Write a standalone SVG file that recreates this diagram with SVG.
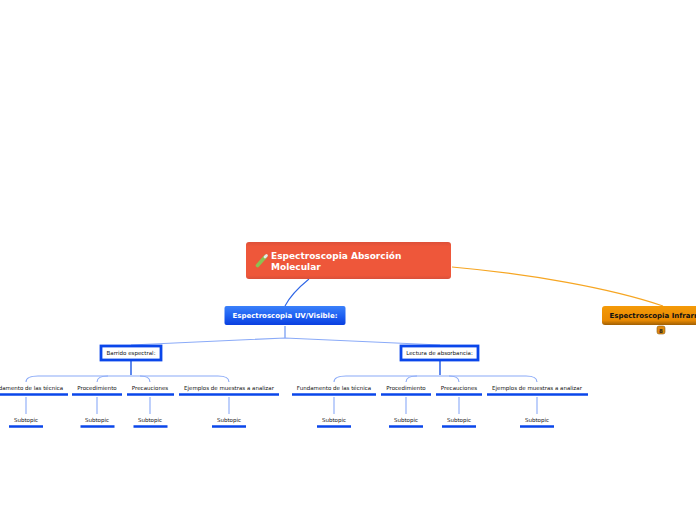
<svg xmlns="http://www.w3.org/2000/svg" width="696" height="520" viewBox="0 0 696 520">
<defs>
<linearGradient id="gBlue" x1="0" y1="0" x2="0" y2="1"><stop offset="0" stop-color="#3b80fa"/><stop offset="0.5" stop-color="#1f62f2"/><stop offset="1" stop-color="#0a3fe0"/></linearGradient>
<linearGradient id="gOrange" x1="0" y1="0" x2="0" y2="1"><stop offset="0" stop-color="#f49a08"/><stop offset="0.75" stop-color="#e98a02"/><stop offset="1" stop-color="#a05f04"/></linearGradient>
<linearGradient id="gRed" x1="0" y1="0" x2="0" y2="1"><stop offset="0" stop-color="#dd5038"/><stop offset="0.12" stop-color="#ee573a"/><stop offset="0.9" stop-color="#ee573a"/><stop offset="1" stop-color="#d9503a"/></linearGradient>
</defs>
<style>
text{font-family:"DejaVu Sans",Verdana,sans-serif}
.t{font-size:5.5px;fill:#111;text-anchor:middle}
.bar{stroke:#0a46ea;stroke-width:2.6;fill:none}
.c{stroke:#8aaaf8;stroke-width:1.1;fill:none}
.cd{stroke:#1a56e6;stroke-width:1.4;fill:none}
.box{fill:#fff;stroke:#0a46ea;stroke-width:2.8}
</style>
<rect width="696" height="520" fill="#fff"/>
<g id="connectors">
<path d="M452 267 C530 274 610 288 663 306" stroke="#f6a623" stroke-width="1.200" fill="none"/>
<path d="M309 279 C298 288 290 296 285 306" stroke="#2f66e6" stroke-width="1.100" fill="none"/>
<path class="c" d="M285 326 V338" style="stroke:#5f8cf0"/>
<path class="c" d="M131 345 L285 338 L440 345"/>
<path class="cd" d="M131 361 V375"/>
<path class="cd" d="M440 361 V375"/>
<path class="c" d="M26 382 C26 378 30 376 38 376 H218 C226 376 229 378 229 382"/>
<path class="c" d="M97 382 C97 378 100 376 108 376 M140 376 C147 376 150 378 150 382"/>
<path class="c" d="M334 382 C334 378 338 376 346 376 H526 C534 376 537 378 537 382"/>
<path class="c" d="M406 382 C406 378 409 376 417 376 M449 376 C456 376 459 378 459 382"/>
<path class="c" d="M26 397 V414 M97 397 V414 M150 397 V414 M229 397 V414"/>
<path class="c" d="M334 397 V414 M406 397 V414 M459 397 V414 M537 397 V414"/>
</g>
<g id="root">
<rect x="246" y="242" width="205" height="37" rx="3" fill="url(#gRed)"/>
<path d="M257.500 265.500 L265.500 256.500" stroke="#8cc152" stroke-width="3.600" stroke-linecap="round"/>
<path d="M265 257 L266.500 255.500" stroke="#e8e8e8" stroke-width="2.600" stroke-linecap="round"/>
<text x="271" y="259" font-size="9" font-weight="700" fill="#fff">Espectroscopia Absorción</text>
<text x="271" y="270" font-size="9" font-weight="700" fill="#fff">Molecular</text>
</g>
<g id="uv">
<rect x="224.500" y="306" width="121" height="19" rx="2" fill="url(#gBlue)"/>
<text x="285" y="318" font-size="7" font-weight="700" fill="#fff" text-anchor="middle">Espectroscopia UV/Visible:</text>
</g>
<g id="ir">
<rect x="602" y="306" width="110" height="19" rx="3" fill="url(#gOrange)"/>
<text x="609.500" y="318" font-size="7" font-weight="700" fill="#111">Espectroscopia Infrarroja</text>
<rect x="657" y="326" width="8" height="8" rx="2" fill="#e08a10" stroke="#8a5a10" stroke-width="0.600"/>
<text x="661" y="332.500" font-size="5.500" font-weight="700" fill="#222" text-anchor="middle">8</text>
</g>
<g id="barrido">
<rect class="box" x="101" y="346" width="60" height="14"/>
<text class="t" x="131" y="355">Barrido espectral:</text>
</g>
<g id="lectura">
<rect class="box" x="401" y="346" width="77" height="14"/>
<text class="t" x="439.500" y="355">Lectura de absorbancia:</text>
</g>
<g id="b1"><text class="t" x="26" y="390">Fundamento de las técnica</text><path class="bar" d="M-16 394.500 H68"/></g>
<g id="b2"><text class="t" x="97" y="390">Procedimiento</text><path class="bar" d="M72 394.500 H122"/></g>
<g id="b3"><text class="t" x="150" y="390">Precauciones</text><path class="bar" d="M127 394.500 H174"/></g>
<g id="b4"><text class="t" x="229" y="390">Ejemplos de muestras a analizar</text><path class="bar" d="M179 394.500 H279"/></g>
<g id="b1s"><text class="t" x="26" y="422">Subtopic</text><path class="bar" d="M9 426.500 H43"/></g>
<g id="b2s"><text class="t" x="97" y="422">Subtopic</text><path class="bar" d="M80.500 426.500 H114.500"/></g>
<g id="b3s"><text class="t" x="150" y="422">Subtopic</text><path class="bar" d="M133.500 426.500 H167.500"/></g>
<g id="b4s"><text class="t" x="229" y="422">Subtopic</text><path class="bar" d="M212 426.500 H246"/></g>
<g id="l1"><text class="t" x="334" y="390">Fundamento de las técnica</text><path class="bar" d="M292 394.500 H376"/></g>
<g id="l2"><text class="t" x="406" y="390">Procedimiento</text><path class="bar" d="M381 394.500 H431"/></g>
<g id="l3"><text class="t" x="459" y="390">Precauciones</text><path class="bar" d="M436 394.500 H482"/></g>
<g id="l4"><text class="t" x="537" y="390">Ejemplos de muestras a analizar</text><path class="bar" d="M487 394.500 H588"/></g>
<g id="l1s"><text class="t" x="334" y="422">Subtopic</text><path class="bar" d="M317 426.500 H351"/></g>
<g id="l2s"><text class="t" x="406" y="422">Subtopic</text><path class="bar" d="M389 426.500 H423"/></g>
<g id="l3s"><text class="t" x="459" y="422">Subtopic</text><path class="bar" d="M442 426.500 H476"/></g>
<g id="l4s"><text class="t" x="537" y="422">Subtopic</text><path class="bar" d="M520 426.500 H554"/></g>
</svg>
